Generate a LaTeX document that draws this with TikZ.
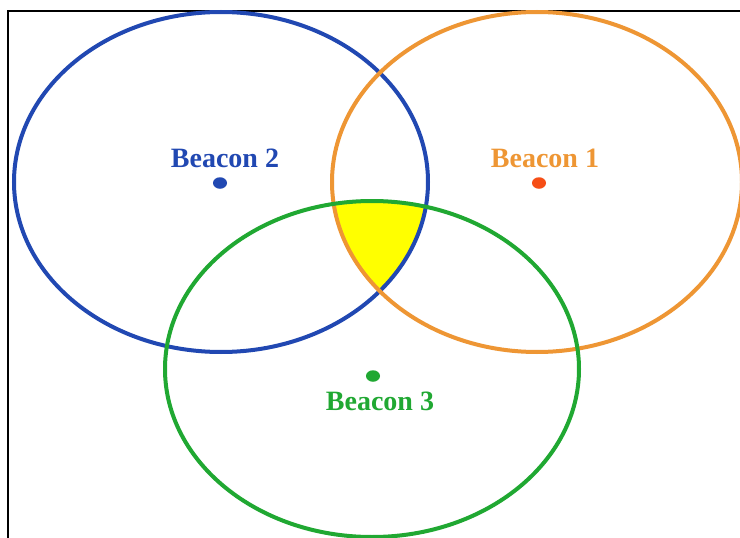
\documentclass[tikz,border=0pt]{standalone}
\usepackage{fontspec}
\setmainfont{Liberation Serif}
\usetikzlibrary{positioning,shapes.geometric}
\definecolor{BcnBlue}{RGB}{33,72,178}
\definecolor{BcnOrange}{RGB}{238,150,52}
\definecolor{BcnRed}{RGB}{246,78,22}
\definecolor{BcnGreen}{RGB}{32,168,50}
\definecolor{BcnYellow}{RGB}{255,255,0}
\tikzset{
  bcn/ring/.style={line width=4pt},
  bcn/dot/.style={
    ellipse,
    inner sep=0pt,
    minimum width=14pt,
    minimum height=11.5pt
  },
  bcn/label/.style={
    inner sep=0pt,
    font=\fontsize{28}{30}\selectfont\bfseries
  },
  bcn/frame/.style={draw=black, line width=1.6pt}
}

\begin{document}
\begin{tikzpicture}[x=1pt,y=-1pt]
  \useasboundingbox (0,0) rectangle (740,538);
  \fill[white] (0,0) rectangle (740,538);
  \draw[bcn/frame] (8,11) rectangle (760,560);

  % common area of the three ranges
  \begin{scope}
    \clip (221,182) ellipse [x radius=207, y radius=170];
    \clip (537,182) ellipse [x radius=205, y radius=170];
    \fill[BcnYellow] (372,369) ellipse [x radius=207, y radius=168];
  \end{scope}

  \draw[bcn/ring,draw=BcnBlue] (221,182) ellipse [x radius=207, y radius=170];
  \draw[bcn/ring,draw=BcnOrange] (537,182) ellipse [x radius=205, y radius=170];
  \draw[bcn/ring,draw=BcnGreen] (372,369) ellipse [x radius=207, y radius=168];

  \node[bcn/dot,fill=BcnBlue] (b2) at (220,183) {};
  \node[bcn/dot,fill=BcnRed] (b1) at (539,183) {};
  \node[bcn/dot,fill=BcnGreen] (b3) at (373,376) {};

  \node[bcn/label,text=BcnBlue,above=9pt of b2,xshift=5pt] (b2lbl) {Beacon 2};
  \node[bcn/label,text=BcnOrange,above=9pt of b1,xshift=6pt] (b1lbl) {Beacon 1};
  \node[bcn/label,text=BcnGreen,below=10pt of b3,xshift=7pt] (b3lbl) {Beacon 3};
\end{tikzpicture}
\end{document}
